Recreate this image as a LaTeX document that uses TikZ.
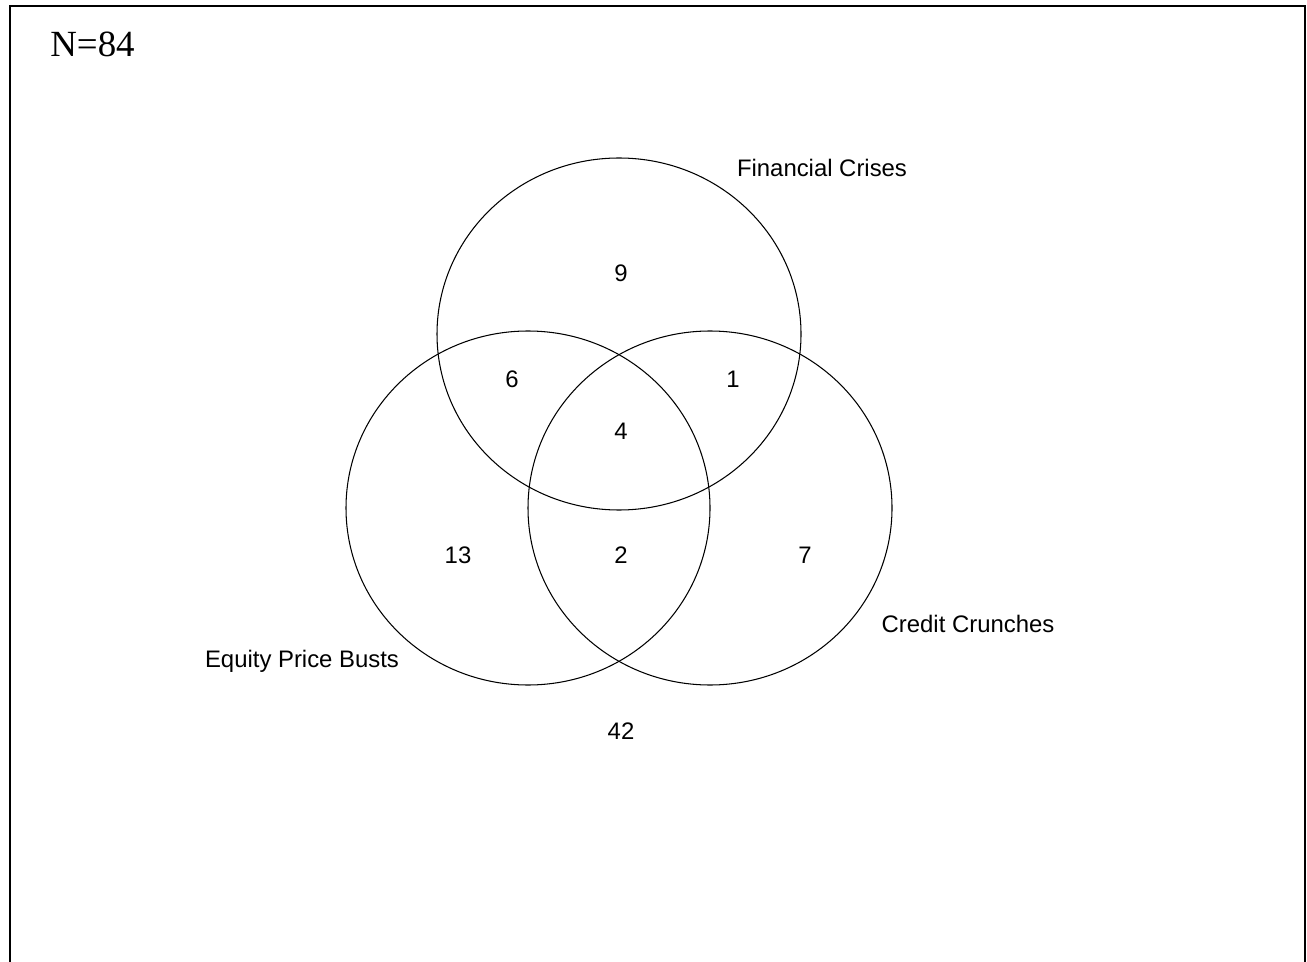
\documentclass[tikz,border=0pt]{standalone}
\usepackage{fontspec}
\setmainfont{Liberation Serif}
\setsansfont{Liberation Sans}
\begin{document}
\begin{tikzpicture}[x=0.02cm,y=-0.02cm,
    setline/.style={line width=0.6pt},
    lbl/.style={font=\sffamily\fontsize{13.6}{16}\selectfont, inner sep=0pt}]
    \useasboundingbox (0,0) rectangle (1307,962);
    % Frame
    \draw[line width=1.4pt] (10,962) -- (10,6) -- (1305,6) -- (1305,962);
    \node[anchor=base west, inner sep=0pt, font=\fontsize{21}{24}\selectfont] (total) at (50,57) {N=84};

    % Sets
    \draw[setline] (619,334) ellipse [x radius=182, y radius=176];
    \draw[setline] (528,508) ellipse [x radius=182, y radius=177];
    \draw[setline] (710,508) ellipse [x radius=182, y radius=177];
    \node[lbl, anchor=base] (fin) at (822,177) {Financial Crises};
    \node[lbl, anchor=base] (eq) at (302,667) {Equity Price Busts};
    \node[lbl, anchor=base] (cred) at (968,632) {Credit Crunches};

    % Counts
    \node[lbl] (n9) at (621,273) {9};
    \node[lbl] (n6) at (512,379) {6};
    \node[lbl] (n1) at (733,379) {1};
    \node[lbl] (n4) at (621,431) {4};
    \node[lbl] (n13) at (458,555) {13};
    \node[lbl] (n2) at (621,555) {2};
    \node[lbl] (n7) at (805,555) {7};
    \node[lbl] (n42) at (621,731) {42};
\end{tikzpicture}
\end{document}
